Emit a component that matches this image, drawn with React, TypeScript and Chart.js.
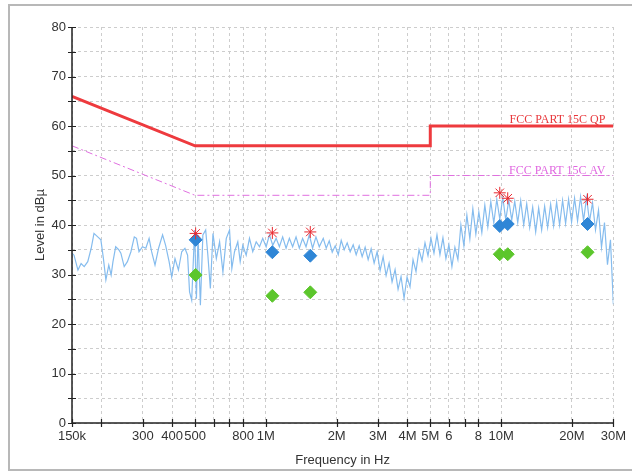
import React, { useEffect, useRef } from 'react';
import { Chart, registerables } from 'chart.js';

Chart.register(...registerables);

// ---- measured spectrum (frequency in MHz, level in dBµV) ----
const traceFreqMHz = [
  0.150, 0.153, 0.159, 0.164, 0.169, 0.175, 0.181, 0.186, 0.193, 0.199,
  0.204, 0.209, 0.215, 0.220, 0.224, 0.230, 0.237, 0.242, 0.250, 0.258,
  0.267, 0.276, 0.282, 0.289, 0.299, 0.309, 0.319, 0.327, 0.338, 0.350,
  0.364, 0.375, 0.388, 0.398, 0.411, 0.425, 0.439, 0.453, 0.465, 0.474,
  0.484,
  0.498, 0.507, 0.515, 0.527, 0.540, 0.555, 0.567, 0.581, 0.596, 0.616,
  0.636, 0.657, 0.679, 0.701, 0.717, 0.736, 0.760, 0.778, 0.798, 0.825,
  0.852, 0.880, 0.910, 0.940, 0.970, 1.003, 1.036, 1.070, 1.106, 1.142,
  1.179, 1.219, 1.259, 1.300, 1.344, 1.388, 1.433, 1.482, 1.530, 1.580,
  1.633, 1.687,
  1.754, 1.806, 1.860, 1.915, 1.972, 2.031, 2.091, 2.153, 2.217, 2.283,
  2.351, 2.421, 2.493, 2.567, 2.643, 2.722, 2.803, 2.886, 2.972, 3.060,
  3.151, 3.245, 3.341, 3.440, 3.543, 3.648, 3.756, 3.868, 3.983, 4.101,
  4.223, 4.348, 4.478, 4.611, 4.748, 4.889, 5.034, 5.184, 5.338, 5.496,
  5.659, 5.827, 6.000, 6.179, 6.362, 6.551, 6.746, 6.946, 7.153, 7.365,
  7.584, 7.810, 8.042, 8.281, 8.527, 8.780, 9.041, 9.310, 9.586, 9.871,
  10.164, 10.466, 10.777, 11.097, 11.427, 11.767, 12.116, 12.476, 12.847, 13.229,
  13.622, 14.027, 14.443, 14.872, 15.314, 15.769, 16.238, 16.720, 17.217, 17.729,
  18.255, 18.798, 19.356, 19.931, 20.524, 21.133, 21.761, 22.408, 23.074, 23.759,
  24.465, 25.192, 25.941, 26.712, 27.505, 28.323, 29.164, 30.000,
];
const traceLevel = [
  34.3, 33.9, 30.9, 32.2, 31.6, 32.6, 35.3, 38.3, 37.6, 37.0,
  33.2, 28.9, 31.9, 29.9, 32.6, 35.6, 35.0, 34.3, 31.6, 32.6,
  34.6, 37.6, 37.3, 34.6, 35.6, 35.3, 37.3, 34.6, 31.9, 35.3,
  38.0, 35.9, 32.6, 29.5, 33.2, 30.9, 34.6, 35.3, 33.9, 26.5,
  24.8,
  39.0, 25.1, 38.0, 23.8, 38.0, 39.0, 33.9, 27.2, 38.3, 33.2,
  36.6, 30.5, 37.3, 39.0, 31.2, 34.6, 36.6, 32.6, 35.9, 33.9,
  37.3, 34.6, 36.6, 35.6, 37.3, 35.6, 38.0, 35.9, 37.3, 35.6,
  37.6, 35.3, 37.3, 35.6, 37.6, 35.3, 37.3, 35.6, 38.0, 35.3,
  37.6, 35.6,
  37.3, 35.3, 36.8, 34.5, 35.8, 34.0, 36.9, 35.0, 36.4, 34.6,
  36.0, 34.0, 35.8, 33.6, 35.5, 33.0, 35.2, 32.3, 34.6, 30.8,
  33.6, 29.8, 32.3, 28.5, 31.0, 27.0, 29.6, 25.2, 29.5, 27.5,
  33.0, 30.6, 35.0, 32.8, 36.4, 33.8, 37.3, 34.3, 38.0, 34.0,
  37.4, 33.2, 36.0, 31.6, 35.5, 33.0, 40.0, 35.8, 42.0, 37.2,
  43.3, 38.2, 42.6, 38.5, 44.0, 39.6, 44.7, 40.4, 45.2, 41.2,
  45.6, 41.0, 45.0, 41.0, 44.8, 40.5, 44.9, 40.0, 44.3, 39.5,
  43.6, 38.6, 43.4, 39.0, 43.8, 39.5, 44.2, 39.8, 44.6, 40.0,
  45.0, 40.3, 45.2, 40.6, 45.4, 40.8, 45.7, 40.9, 45.5, 40.7,
  44.5, 39.0, 43.0, 35.5, 40.5, 32.0, 37.0, 24.0,
];

// ---- limit lines ----
const limitFreqMHz = [0.15, 0.5, 5, 5, 30];
const limitQPLevel = [66, 56, 56, 60, 60];
const limitAVLevel = [56, 46, 46, 50, 50];
const limitQPName = 'FCC PART 15C QP';
const limitAVName = 'FCC PART 15C AV';

// ---- final measurement markers ----
const markerFreqMHz = [0.503, 1.066, 1.545, 9.87, 10.67, 23.3];
const peakLevel = [38.3, 38.4, 38.6, 46.5, 45.4, 45.2];
const qpLevel = [37.0, 34.5, 33.8, 39.8, 40.2, 40.2];
const avLevel = [29.9, 25.7, 26.4, 34.1, 34.1, 34.5];

// ---- axes ----
const xTickHz = [150000, 200000, 300000, 400000, 500000, 600000, 700000, 800000,
  1e6, 2e6, 3e6, 4e6, 5e6, 6e6, 7e6, 8e6, 1e7, 2e7, 3e7];
const xTickLabels = ['150k', '', '300', '400', '500', '', '', '800',
  '1M', '2M', '3M', '4M', '5M', '6', '', '8', '10M', '20M', '30M'];
const yMin = 0;
const yMax = 80;
const yStep = 5;
const xTitle = 'Frequency in Hz';
const yTitle = 'Level in dBµ';

const toPts = (f: number[], v: number[]) => f.map((m, i) => ({ x: m * 1e6, y: v[i] }));

const decor = {
  id: 'decor',
  beforeDraw(chart: any) {
    const ctx = chart.ctx;
    ctx.save();
    ctx.strokeStyle = '#b8b8b8';
    ctx.lineWidth = 2;
    ctx.strokeRect(9, 5, 624, 465);
    ctx.restore();
  },
  afterDraw(chart: any) {
    const { ctx, chartArea, scales } = chart;
    const { left, right, top, bottom } = chartArea;
    const x = scales.x;
    const y = scales.y;
    ctx.save();
    ctx.strokeStyle = '#222';
    ctx.lineWidth = 1.5;
    ctx.beginPath();
    ctx.moveTo(left, top);
    ctx.lineTo(left, bottom);
    ctx.lineTo(right, bottom);
    ctx.stroke();
    ctx.lineWidth = 1.2;
    ctx.beginPath();
    xTickHz.forEach((v) => {
      const px = Math.round(x.getPixelForValue(v)) + 0.5;
      ctx.moveTo(px, bottom - 4);
      ctx.lineTo(px, bottom + 4);
    });
    for (let v = yMin; v <= yMax; v += yStep) {
      const py = Math.round(y.getPixelForValue(v)) + 0.5;
      ctx.moveTo(left - 4, py);
      ctx.lineTo(left + 4, py);
    }
    ctx.stroke();

    ctx.font = '12px "Liberation Serif", serif';
    ctx.textAlign = 'right';
    ctx.textBaseline = 'alphabetic';
    ctx.fillStyle = '#e8383c';
    ctx.fillText(limitQPName, right - 8, y.getPixelForValue(limitQPLevel[4]) - 3);
    ctx.fillStyle = '#e066e0';
    ctx.fillText(limitAVName, right - 8, y.getPixelForValue(limitAVLevel[4]) - 2);
    ctx.restore();
  },
};

export default function App() {
  const ref = useRef<HTMLCanvasElement | null>(null);
  useEffect(() => {
    if (!ref.current) return;
    const chart = new Chart(ref.current, {
      type: 'line',
      data: {
        datasets: [
          {
            type: 'scatter',
            label: 'Peak',
            data: toPts(markerFreqMHz, peakLevel),
            pointStyle: 'star',
            pointRadius: 6,
            borderColor: '#e8282f',
            backgroundColor: '#e8282f',
            borderWidth: 1,
            showLine: false,
          },
          {
            type: 'scatter',
            label: 'QP',
            data: toPts(markerFreqMHz, qpLevel),
            pointStyle: 'rectRot',
            pointRadius: 6.5,
            borderColor: '#2f86d6',
            backgroundColor: '#2f86d6',
            borderWidth: 1,
            showLine: false,
          },
          {
            type: 'scatter',
            label: 'AV',
            data: toPts(markerFreqMHz, avLevel),
            pointStyle: 'rectRot',
            pointRadius: 6.5,
            borderColor: '#5cc62c',
            backgroundColor: '#5cc62c',
            borderWidth: 1,
            showLine: false,
          },
          {
            label: limitQPName,
            data: toPts(limitFreqMHz, limitQPLevel),
            borderColor: '#ee3a3e',
            borderWidth: 3,
            pointRadius: 0,
            tension: 0,
            fill: false,
          },
          {
            label: limitAVName,
            data: toPts(limitFreqMHz, limitAVLevel),
            borderColor: '#e070e0',
            borderWidth: 1,
            borderDash: [7, 3, 2, 3],
            pointRadius: 0,
            tension: 0,
            fill: false,
          },
          {
            label: 'Spectrum',
            data: toPts(traceFreqMHz, traceLevel),
            borderColor: '#85bcee',
            borderWidth: 1.2,
            pointRadius: 0,
            tension: 0,
            fill: false,
          },
        ],
      },
      options: {
        responsive: false,
        animation: false,
        devicePixelRatio: 1,
        layout: { padding: { top: 27, right: 17, left: 0, bottom: 0 } },
        plugins: {
          legend: { display: false },
          tooltip: { enabled: false },
        },
        scales: {
          x: {
            type: 'logarithmic',
            min: 150000,
            max: 30000000,
            afterBuildTicks: (scale: any) => {
              scale.ticks = xTickHz.map((v) => ({ value: v }));
            },
            afterFit: (scale: any) => {
              scale.height = 51;
            },
            ticks: {
              autoSkip: false,
              maxRotation: 0,
              minRotation: 0,
              padding: 6,
              color: '#333',
              font: { family: '"Liberation Sans", Arial, sans-serif', size: 13 },
              callback: (_v: any, i: number) => xTickLabels[i],
            },
            grid: { color: '#cdcdcd', lineWidth: 1, drawTicks: false },
            border: { display: false, dash: [3, 3] },
            title: {
              display: true,
              text: xTitle,
              color: '#333',
              font: { family: '"Liberation Sans", Arial, sans-serif', size: 13 },
              padding: { top: 0, bottom: 6 },
            },
          },
          y: {
            type: 'linear',
            min: yMin,
            max: yMax,
            afterFit: (scale: any) => {
              scale.width = 72;
            },
            ticks: {
              stepSize: yStep,
              padding: 6,
              color: '#333',
              font: { family: '"Liberation Sans", Arial, sans-serif', size: 13 },
              callback: (v: any) => (Number(v) % 10 === 0 ? String(v) : ''),
            },
            grid: { color: '#cdcdcd', lineWidth: 1, drawTicks: false },
            border: { display: false, dash: [3, 3] },
            title: {
              display: true,
              text: yTitle,
              color: '#333',
              font: { family: '"Liberation Sans", Arial, sans-serif', size: 13 },
              padding: { top: 33, bottom: 0 },
            },
          },
        },
      },
      plugins: [decor],
    } as any);
    return () => chart.destroy();
  }, []);

  return (
    <div style={{ position: 'fixed', left: 0, top: 0, width: 632, height: 474, background: '#fff' }}>
      <canvas ref={ref} width={632} height={474} style={{ display: 'block' }} />
    </div>
  );
}
